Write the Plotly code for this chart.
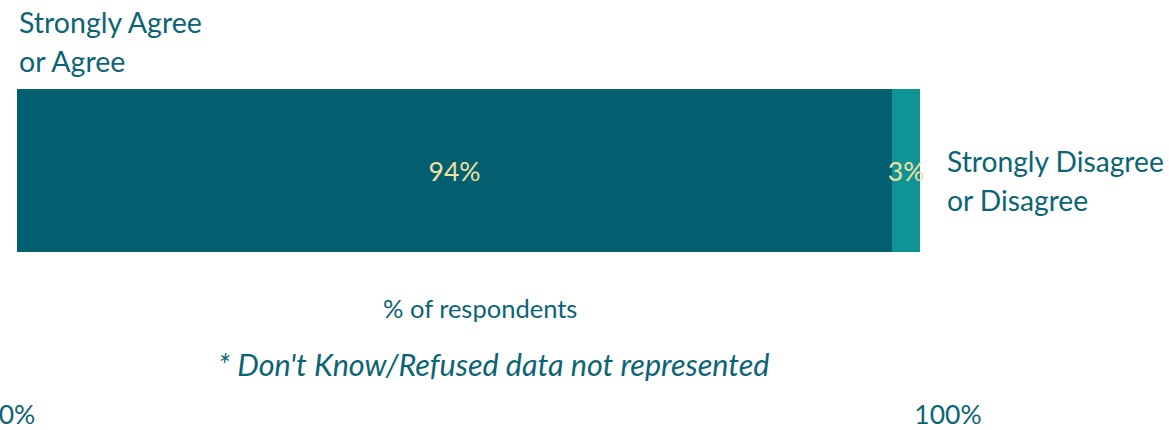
import plotly.graph_objects as go

categories = ["Strongly Agree or Agree", "Strongly Disagree or Disagree"]
values = [94, 3]
value_labels = ["94%", "3%"]
bar_colors = ["#015F70", "#0E9494"]
tick_vals = [0, 100]
tick_text = ["0%", "100%"]

TEAL = "#0B6474"
LABEL = "#F2DFA2"
FONT = "Lato"

fig = go.Figure()
for cat, v, lab, col in zip(categories, values, value_labels, bar_colors):
    fig.add_trace(go.Bar(
        x=[v], y=[0], name=cat, orientation="h", width=1,
        marker=dict(color=col, line=dict(width=0)),
        text=[lab], textposition="inside", insidetextanchor="middle",
        textangle=0, constraintext="none", cliponaxis=False,
        textfont=dict(color=LABEL, size=26.5, family=FONT),
        hoverinfo="skip",
    ))

W, H = 1169, 430
L, R, T, B = 17, 221, 18, 34
pw, ph = W - L - R, H - T - B

def px(x):
    return (x - L) / pw

def py(y):
    return (H - B - y) / ph

annos = [
    ("Strongly Agree", 17, 22.5, "left", 28.5, False),
    ("or Agree", 17, 61, "left", 28.5, False),
    ("Strongly Disagree", 945, 161, "left", 28.2, False),
    ("or Disagree", 945, 200, "left", 28.2, False),
    ("% of respondents", 480, 308, "center", 25.5, False),
    ("* Don't Know/Refused data not represented", 493, 364, "center", 30.5, True),
]
for text, x, y, anchor, size, ital in annos:
    fig.add_annotation(
        x=px(x), y=py(y), xref="paper", yref="paper", text=text,
        showarrow=False, xanchor=anchor, yanchor="middle",
        font=dict(family=FONT, size=size, color=TEAL,
                  style="italic" if ital else "normal"),
    )

fig.update_layout(
    barmode="stack", width=W, height=H, showlegend=False,
    margin=dict(l=L, r=R, t=T, b=B, autoexpand=False),
    plot_bgcolor="white", paper_bgcolor="white",
    font=dict(family=FONT, color=TEAL),
    xaxis=dict(range=[0, 100], tickvals=tick_vals, ticktext=tick_text,
               automargin=False, ticklabeloverflow="allow",
               showgrid=False, zeroline=False, showline=False, ticks="",
               tickfont=dict(size=26.5, color=TEAL, family=FONT)),
    yaxis=dict(range=[-1.3834, 0.9356], visible=False, showgrid=False,
               zeroline=False, automargin=False),
)

fig.write_html(
    "out.html",
    config={"displayModeBar": False},
    post_script="document.body.style.margin='0';document.body.style.overflow='hidden';",
)
